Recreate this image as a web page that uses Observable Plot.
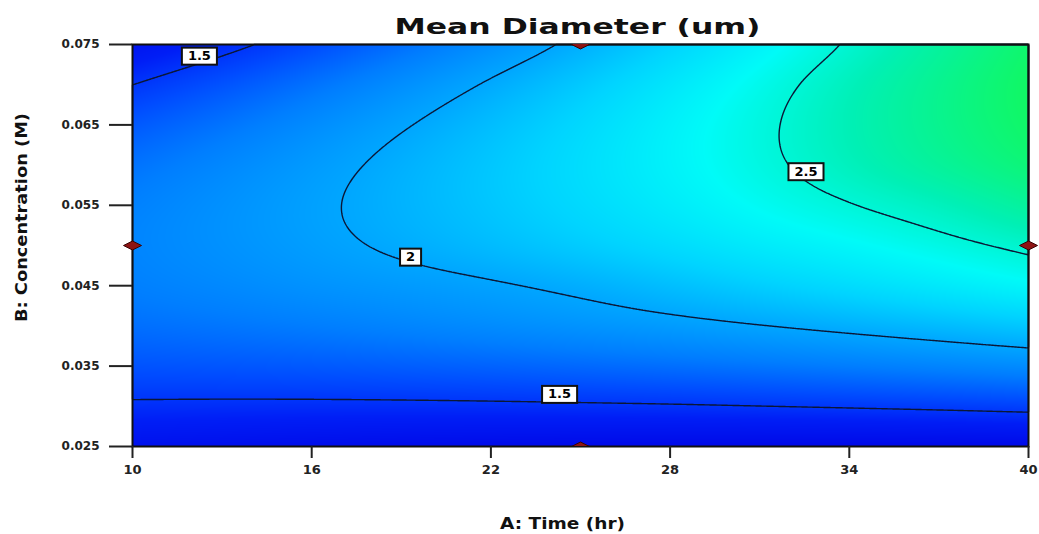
<!DOCTYPE html>
<html>
<head>
<meta charset="utf-8">
<script src="https://cdn.jsdelivr.net/npm/d3@7"></script>
<script src="https://cdn.jsdelivr.net/npm/@observablehq/plot@0.6"></script>
<style>
  body { margin: 0; background: #fff; }
  #chart svg { display: block; }
</style>
</head>
<body>
<div id="chart"></div>
<script>
// ---- Data ----
const timeLevels = [10, 13, 16, 19, 22, 25, 28, 31, 34, 37, 40];            // A: Time (hr)
const concLevels = [0.025, 0.030, 0.035, 0.040, 0.045, 0.050, 0.055, 0.060, 0.065, 0.070, 0.075]; // B: Concentration (M)
// Mean diameter (um), one row per concentration level (low -> high), columns follow timeLevels
const diameterRows = [
  [1.270, 1.249, 1.231, 1.216, 1.204, 1.194, 1.187, 1.183, 1.182, 1.184, 1.188],
  [1.471, 1.466, 1.464, 1.465, 1.469, 1.476, 1.485, 1.498, 1.513, 1.530, 1.551],
  [1.627, 1.639, 1.653, 1.671, 1.691, 1.714, 1.739, 1.768, 1.799, 1.833, 1.870],
  [1.740, 1.768, 1.799, 1.833, 1.869, 1.908, 1.950, 1.995, 2.042, 2.092, 2.146],
  [1.809, 1.854, 1.901, 1.940, 1.983, 2.038, 2.107, 2.177, 2.241, 2.308, 2.377],
  [1.835, 1.895, 1.959, 2.025, 2.093, 2.165, 2.239, 2.317, 2.382, 2.455, 2.535],
  [1.817, 1.893, 1.973, 2.055, 2.140, 2.228, 2.319, 2.412, 2.493, 2.577, 2.689],
  [1.755, 1.848, 1.943, 2.042, 2.143, 2.247, 2.354, 2.464, 2.576, 2.691, 2.810],
  [1.649, 1.758, 1.870, 1.985, 2.102, 2.222, 2.346, 2.471, 2.600, 2.732, 2.866],
  [1.499, 1.625, 1.753, 1.884, 2.018, 2.154, 2.294, 2.436, 2.581, 2.728, 2.879],
  [1.306, 1.448, 1.592, 1.739, 1.889, 2.042, 2.198, 2.356, 2.517, 2.681, 2.848]
];
const contourLevels = [1.5, 2, 2.5];

// contour labels
const labelTexts = ["1.5", "2", "2.5", "1.5"];
const labelTimes = [12.24, 19.31, 32.55, 24.3];
const labelConcs = [0.07357, 0.04857, 0.0592, 0.0315];

// design points (red diamonds)
const designTimes = [10, 40, 25, 25];
const designConcs = [0.05, 0.05, 0.075, 0.025];

// ticks
const xTicks = [10, 16, 22, 28, 34, 40];
const yTicks = [0.025, 0.035, 0.045, 0.055, 0.065, 0.075];

const titleText = "Mean Diameter (um)";
const xLabelText = "A: Time (hr)";
const yLabelText = "B: Concentration (M)";

// ---- Build tables ----
const grid = [];
concLevels.forEach((c, j) => timeLevels.forEach((t, i) => grid.push({time: t, conc: c, d: diameterRows[j][i]})));
const labels = labelTexts.map((s, i) => ({text: s, time: labelTimes[i], conc: labelConcs[i]}));
const design = designTimes.map((t, i) => ({time: t, conc: designConcs[i]}));
const designEdge = design.filter(p => p.conc !== 0.05);
const designSide = design.filter(p => p.conc === 0.05);

// Smooth (Catmull-Rom bicubic) interpolation of the regular sample grid, used by Plot's raster/contour
function bicubicGrid(index, width, height, X, Y, V) {
  const xs = Array.from(new Set(Array.from(index, i => X[i]))).sort((a, b) => a - b);
  const ys = Array.from(new Set(Array.from(index, i => Y[i]))).sort((a, b) => a - b);
  const nx = xs.length, ny = ys.length;
  const G = new Float64Array(nx * ny);
  for (const i of index) G[ys.indexOf(Y[i]) * nx + xs.indexOf(X[i])] = V[i];
  const g = (ix, iy) => {
    if (ix < 0) return 2 * g(0, iy) - g(1, iy);
    if (ix > nx - 1) return 2 * g(nx - 1, iy) - g(nx - 2, iy);
    if (iy < 0) return 2 * g(ix, 0) - g(ix, 1);
    if (iy > ny - 1) return 2 * g(ix, ny - 1) - g(ix, ny - 2);
    return G[iy * nx + ix];
  };
  const cub = (p0, p1, p2, p3, t) => p1 + 0.5 * t * (p2 - p0 + t * (2 * p0 - 5 * p1 + 4 * p2 - p3 + t * (3 * (p1 - p2) + p3 - p0)));
  const x0 = xs[0], x1 = xs[nx - 1], y0 = ys[0], y1 = ys[ny - 1];
  const W = new Float64Array(width * height);
  for (let j = 0; j < height; ++j) {
    let v = ((j + 0.5) - y0) / (y1 - y0) * (ny - 1);
    v = Math.max(0, Math.min(ny - 1, v));
    const ky = Math.min(ny - 2, Math.floor(v)), ty = v - ky;
    for (let i = 0; i < width; ++i) {
      let u = ((i + 0.5) - x0) / (x1 - x0) * (nx - 1);
      u = Math.max(0, Math.min(nx - 1, u));
      const kx = Math.min(nx - 2, Math.floor(u)), tx = u - kx;
      const rows = [];
      for (let r = -1; r <= 2; ++r) {
        rows.push(cub(g(kx - 1, ky + r), g(kx, ky + r), g(kx + 1, ky + r), g(kx + 2, ky + r), tx));
      }
      W[j * width + i] = cub(rows[0], rows[1], rows[2], rows[3], ty);
    }
  }
  return W;
}

// flattened diamond symbol
const flatDiamond = {
  draw(ctx, size) {
    const r = Math.sqrt(size / Math.PI);
    ctx.moveTo(-1.8 * r, 0);
    ctx.lineTo(0, -0.9 * r);
    ctx.lineTo(1.8 * r, 0);
    ctx.lineTo(0, 0.9 * r);
    ctx.closePath();
  }
};

const svg = Plot.plot({
  width: 1039,
  height: 534,
  marginLeft: 132,
  marginRight: 11,
  marginTop: 44,
  marginBottom: 88,
  style: {fontFamily: "'DejaVu Sans', sans-serif", fontWeight: "bold", fontSize: "12px", color: "#111", background: "#fff"},
  x: {domain: [10, 40], label: null},
  y: {domain: [0.025, 0.075], label: null},
  color: {
    type: "linear",
    domain: [1.15, 1.4, 1.6, 1.8, 2.0, 2.2, 2.4, 2.6, 2.9],
    range: ["#0006e6", "#001ef6", "#004cff", "#007eff", "#00a6ff", "#00d4ff", "#00fbf8", "#00f0b6", "#12f85e"],
    interpolate: "rgb"
  },
  marks: [
    Plot.raster(grid, {x: "time", y: "conc", fill: "d", interpolate: bicubicGrid, pixelSize: 1}),
    Plot.contour(grid, {x: "time", y: "conc", value: "d", interpolate: bicubicGrid, pixelSize: 1, thresholds: contourLevels, stroke: "#0b1736", strokeWidth: 1.4}),
    Plot.frame({stroke: "#111", strokeWidth: 2}),
    Plot.axisY(yTicks, {tickSize: 23, tickPadding: 10, tickFormat: d => d.toFixed(3), fontSize: 12, fontWeight: "bold", strokeWidth: 2, stroke: "#222", fill: "#222", label: null}),
    Plot.axisX(xTicks, {tickSize: 12, tickPadding: 6, tickFormat: d => String(d), fontSize: 13, fontWeight: "bold", strokeWidth: 2, stroke: "#222", fill: "#222", label: null}),
    Plot.dot(designEdge, {x: "time", y: "conc", r: 5, symbol: flatDiamond, fill: "#8e1414", stroke: "#3a0303", strokeWidth: 1, clip: true}),
    Plot.dot(designSide, {x: "time", y: "conc", r: 5, symbol: flatDiamond, fill: "#8e1414", stroke: "#3a0303", strokeWidth: 1}),
    Plot.text(labels, {x: "time", y: "conc", text: "text", fill: "#000", fontSize: 13, fontWeight: "bold"}),
    Plot.text([titleText], {frameAnchor: "top", textAnchor: "middle", lineAnchor: "middle", dx: -3, dy: -18, fontSize: 22, fontWeight: "bold", fill: "#111"}),
    Plot.text([xLabelText], {frameAnchor: "bottom", textAnchor: "middle", lineAnchor: "middle", dx: -18, dy: 77, fontSize: 16, fontWeight: "bold", fill: "#111"}),
    Plot.text([yLabelText], {frameAnchor: "left", textAnchor: "middle", lineAnchor: "middle", dx: -110, dy: -28, rotate: -90, fontSize: 15.5, fontWeight: "bold", fill: "#111"})
  ]
});

document.getElementById("chart").append(svg);

const allTexts = Array.from(svg.querySelectorAll("text"));
function stretch(content, len) {
  allTexts.filter(t => t.textContent === content).forEach(t => {
    t.setAttribute("textLength", len);
    t.setAttribute("lengthAdjust", "spacingAndGlyphs");
  });
}
stretch(titleText, 366);
stretch(xLabelText, 125);
stretch(yLabelText, 209);

// white boxes behind contour labels (the text mark drawn from `labels`)
const labelSet = new Set(labelTexts);
allTexts
  .filter(t => labelSet.has(t.textContent) && !(t.closest("g[aria-label]") || {getAttribute: () => ""}).getAttribute("aria-label").includes("axis"))
  .forEach(t => {
    const b = t.getBBox();
    const r = document.createElementNS("http://www.w3.org/2000/svg", "rect");
    r.setAttribute("x", b.x - 6);
    r.setAttribute("y", b.y - 0.5);
    r.setAttribute("width", b.width + 12);
    r.setAttribute("height", b.height + 2);
    r.setAttribute("fill", "#fff");
    r.setAttribute("stroke", "#111");
    r.setAttribute("stroke-width", 2);
    const tr = t.getAttribute("transform");
    if (tr) r.setAttribute("transform", tr);
    t.parentNode.insertBefore(r, t);
  });
</script>
</body>
</html>
